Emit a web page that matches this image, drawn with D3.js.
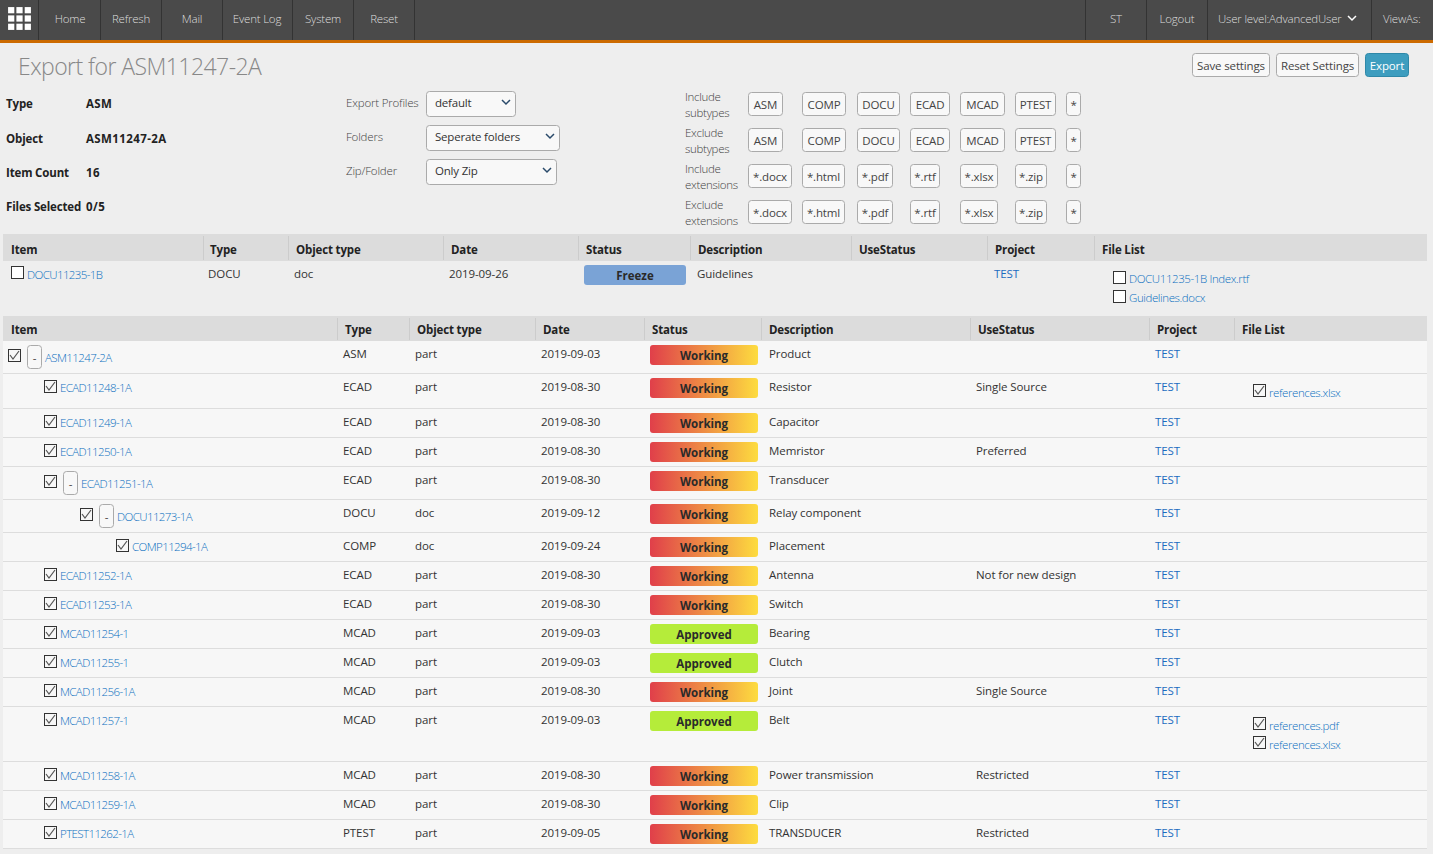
<!DOCTYPE html>
<html>
<head>
<meta charset="utf-8">
<script src="https://cdn.jsdelivr.net/npm/d3@7"></script>
<style>
html, body { margin: 0; padding: 0; background: #eeeeee; overflow: hidden; }
svg { display: block; }
text { font-family: "Open Sans", sans-serif; font-size: 11.5px; letter-spacing: -0.08px; fill: #333; }
</style>
</head>
<body>
<svg id="canvas" width="1433" height="854"></svg>
<script>
// nav
var navLeft = ["Home", "Refresh", "Mail", "Event Log", "System", "Reset"];
var navRight = ["ST", "Logout", "User level:AdvancedUser", "ViewAs:"];

// info block
var infoLabels = ["Type", "Object", "Item Count", "Files Selected"];
var infoValues = ["ASM", "ASM11247-2A", "16", "0/5"];
var selectLabels = ["Export Profiles", "Folders", "Zip/Folder"];
var selectValues = ["default", "Seperate folders", "Only Zip"];

// filters
var filterLabels = [["Include", "subtypes"], ["Exclude", "subtypes"], ["Include", "extensions"], ["Exclude", "extensions"]];
var subtypes = ["ASM", "COMP", "DOCU", "ECAD", "MCAD", "PTEST", "*"];
var extensions = ["*.docx", "*.html", "*.pdf", "*.rtf", "*.xlsx", "*.zip", "*"];

// tables
var columns = ["Item", "Type", "Object type", "Date", "Status", "Description", "UseStatus", "Project", "File List"];

var topItem = ["DOCU11235-1B"];
var topType = ["DOCU"];
var topObject = ["doc"];
var topDate = ["2019-09-26"];
var topStatus = ["Freeze"];
var topDesc = ["Guidelines"];
var topUse = [""];
var topProject = ["TEST"];
var topFiles = [["DOCU11235-1B Index.rtf", "Guidelines.docx"]];

var items = ["ASM11247-2A", "ECAD11248-1A", "ECAD11249-1A", "ECAD11250-1A", "ECAD11251-1A", "DOCU11273-1A", "COMP11294-1A", "ECAD11252-1A", "ECAD11253-1A", "MCAD11254-1", "MCAD11255-1", "MCAD11256-1A", "MCAD11257-1", "MCAD11258-1A", "MCAD11259-1A", "PTEST11262-1A"];
var depths = [0, 1, 1, 1, 1, 2, 3, 1, 1, 1, 1, 1, 1, 1, 1, 1];
var toggles = [1, 0, 0, 0, 1, 1, 0, 0, 0, 0, 0, 0, 0, 0, 0, 0];
var types = ["ASM", "ECAD", "ECAD", "ECAD", "ECAD", "DOCU", "COMP", "ECAD", "ECAD", "MCAD", "MCAD", "MCAD", "MCAD", "MCAD", "MCAD", "PTEST"];
var objectTypes = ["part", "part", "part", "part", "part", "doc", "doc", "part", "part", "part", "part", "part", "part", "part", "part", "part"];
var dates = ["2019-09-03", "2019-08-30", "2019-08-30", "2019-08-30", "2019-08-30", "2019-09-12", "2019-09-24", "2019-08-30", "2019-08-30", "2019-09-03", "2019-09-03", "2019-08-30", "2019-09-03", "2019-08-30", "2019-08-30", "2019-09-05"];
var statuses = ["Working", "Working", "Working", "Working", "Working", "Working", "Working", "Working", "Working", "Approved", "Approved", "Working", "Approved", "Working", "Working", "Working"];
var descriptions = ["Product", "Resistor", "Capacitor", "Memristor", "Transducer", "Relay component", "Placement", "Antenna", "Switch", "Bearing", "Clutch", "Joint", "Belt", "Power transmission", "Clip", "TRANSDUCER"];
var useStatuses = ["", "Single Source", "", "Preferred", "", "", "", "Not for new design", "", "", "", "Single Source", "", "Restricted", "", "Restricted"];
var projects = ["TEST", "TEST", "TEST", "TEST", "TEST", "TEST", "TEST", "TEST", "TEST", "TEST", "TEST", "TEST", "TEST", "TEST", "TEST", "TEST"];
var files = [[], ["references.xlsx"], [], [], [], [], [], [], [], [], [], [], ["references.pdf", "references.xlsx"], [], [], []];

var linkColor = "#0a6fc0", projectColor = "#1c6cc0", lineColor = "#aaa";
var svg = d3.select("#canvas");

var defs = svg.append("defs");
var grad = defs.append("linearGradient").attr("id", "working");
grad.append("stop").attr("offset", "0%").attr("stop-color", "#e03f4a");
grad.append("stop").attr("offset", "100%").attr("stop-color", "#fddc3f");

function label(g, x, y, s, opt) {
  opt = opt || {};
  return g.append("text").attr("x", x).attr("y", y).text(s)
    .style("font-size", opt.size || null)
    .style("font-weight", opt.weight || null)
    .style("letter-spacing", opt.ls || null)
    .style("fill", opt.fill || null)
    .attr("text-anchor", opt.anchor || null);
}

// the thin link text is narrower than the regular text
function link(g, x, y, s, ls) {
  return label(g, x, y, s, { fill: linkColor, weight: 300, ls: ls || "-0.6px" });
}

function checkbox(g, x, y, checked) {
  g.append("rect").attr("x", x + .5).attr("y", y + .5).attr("width", 12).attr("height", 12)
    .attr("fill", checked ? "#f7f7f7" : "#fff").attr("stroke", "#333");
  if (checked) {
    g.append("path").attr("d", "M" + (x + 2) + "," + (y + 6) + "l3,4l6,-8")
      .attr("fill", "none").attr("stroke", "#555").attr("stroke-width", 1.2);
  }
}

function button(g, x, y, w, h, s, opt) {
  opt = opt || {};
  g.append("rect").attr("x", x + .5).attr("y", y + .5).attr("width", w - 1).attr("height", h - 1).attr("rx", 3)
    .attr("fill", opt.bg || "#f8f8f8").attr("stroke", opt.stroke || lineColor);
  label(g, x + w / 2, y + h / 2 + 5, s, { anchor: "middle", fill: opt.fill || "#444", ls: "-0.15px" });
}

function chevron(g, x, y, color) {
  g.append("path").attr("d", "M" + (x - 4) + "," + (y - 2) + "l4,4l4,-4")
    .attr("fill", "none").attr("stroke", color || "#2a4a6a").attr("stroke-width", 1.5);
}

// ---- nav bar
var nav = svg.append("g");
nav.append("rect").attr("width", 1433).attr("height", 40).attr("fill", "#4a4a4a");
nav.append("rect").attr("y", 40).attr("width", 1433).attr("height", 3).attr("fill", "#cc6a00");

// app grid icon
var gridStep = d3.scaleBand().domain([0, 1, 2]).range([6, 33]).padding(0.25);
[0, 1, 2].forEach(function(r) {
  [0, 1, 2].forEach(function(c) {
    nav.append("rect").attr("x", gridStep(c)).attr("y", gridStep(r) - 1)
      .attr("width", gridStep.bandwidth()).attr("height", gridStep.bandwidth()).attr("fill", "#fff");
  });
});

var navSeps = [38, 100, 161, 222, 292, 353, 414, 1085, 1146, 1207, 1371];
nav.selectAll("line").data(navSeps).enter().append("line")
  .attr("x1", function(d) { return d + .5; }).attr("x2", function(d) { return d + .5; })
  .attr("y1", 0).attr("y2", 40).attr("stroke", "#333");

var navLeftX = [70, 131, 192, 257, 323, 384];
navLeft.forEach(function(s, i) {
  label(nav, navLeftX[i], 23, s, { anchor: "middle", fill: "#ddd", weight: 300, ls: "-0.2px" });
});
var navRightX = [1116, 1177, 1218, 1383];
navRight.forEach(function(s, i) {
  label(nav, navRightX[i], 23, s, { anchor: i == 0 || i == 1 ? "middle" : "start", fill: "#ddd", weight: 300, ls: "-0.2px" });
});
chevron(nav, 1352, 18, "#fff");

// ---- title and action buttons
label(svg, 18, 75, "Export for " + infoValues[1], { size: "23px", fill: "#888", weight: 300, ls: "-0.55px" });
button(svg, 1192, 53, 78, 24, "Save settings");
button(svg, 1276, 53, 83, 24, "Reset Settings");
button(svg, 1365, 53, 44, 24, "Export", { bg: "#3d9dbf", stroke: "#2e88a8", fill: "#fff" });

// ---- info block
var infoY = d3.scalePoint().domain(infoLabels).range([108.4, 211.4]);
infoLabels.forEach(function(s, i) {
  label(svg, 6, infoY(s), s, { weight: 700, fill: "#222", ls: "-0.15px" });
  label(svg, 86, infoY(s), infoValues[i], { weight: 700, fill: "#222", ls: "0.4px" });
});

var selectY = d3.scalePoint().domain(selectLabels).range([91, 159]);
var selectW = [90, 134, 131];
selectLabels.forEach(function(s, i) {
  var y = selectY(s);
  label(svg, 346, y + 16, s, { fill: "#444", weight: 300, ls: "-0.18px" });
  svg.append("rect").attr("x", 426.5).attr("y", y + .5).attr("width", selectW[i] - 1).attr("height", 25).attr("rx", 3)
    .attr("fill", "#f8f8f8").attr("stroke", lineColor);
  label(svg, 435, y + 16, selectValues[i], { fill: "#333", ls: "-0.2px" });
  chevron(svg, 426 + selectW[i] - 10, y + 11);
});

// ---- filter buttons
var filterY = d3.scalePoint().domain(d3.range(4)).range([92, 200]);
var filterX = d3.scaleOrdinal().domain(d3.range(7)).range([748, 802, 857, 910, 960, 1015, 1066]);
var subtypeW = [35, 44, 43, 40, 45, 41, 15];
var extensionW = [44, 43, 36, 30, 38, 32, 15];
filterLabels.forEach(function(lines, r) {
  var y = filterY(r);
  label(svg, 685, y + 9, lines[0], { fill: "#444", weight: 300, ls: "-0.3px" });
  label(svg, 685, y + 25, lines[1], { fill: "#444", weight: 300, ls: "-0.3px" });
  var names = r < 2 ? subtypes : extensions;
  var widths = r < 2 ? subtypeW : extensionW;
  names.forEach(function(s, c) {
    button(svg, filterX(c), y, widths[c], 24, s);
  });
});

// ---- tables
function header(y, h, seps, textX) {
  var g = svg.append("g");
  g.append("rect").attr("x", 3).attr("y", y).attr("width", 1424).attr("height", h).attr("fill", "#dcdcdc");
  seps.forEach(function(x) {
    g.append("line").attr("x1", x + .5).attr("x2", x + .5).attr("y1", y + 2).attr("y2", y + h - 1)
      .attr("stroke", "#ccc");
  });
  columns.forEach(function(s) {
    label(g, textX(s), y + h - 7, s, { weight: 700, fill: "#222", ls: "-0.15px" });
  });
}

function pill(g, x, y, w, s) {
  var fill = s == "Working" ? "url(#working)" : s == "Approved" ? "#b5ec3a" : "#7aa3d6";
  g.append("rect").attr("x", x).attr("y", y).attr("width", w).attr("height", 20).attr("rx", 3).attr("fill", fill);
  label(g, x + w / 2, y + 15, s, { anchor: "middle", weight: 700, fill: "#2a2a2a", ls: "0" });
}

// first table
var x1 = d3.scaleOrdinal().domain(columns).range([11, 210, 296, 451, 586, 698, 859, 995, 1102]);
header(234, 27, [203, 288, 443, 578, 690, 851, 987, 1094], x1);

var top1 = svg.append("g");
checkbox(top1, 11, 266, false);
link(top1, 27, 278.5, topItem[0]);
label(top1, 208, 277.5, topType[0]);
label(top1, 294, 277.5, topObject[0]);
label(top1, 449, 277.5, topDate[0]);
pill(top1, 584, 265, 102, topStatus[0]);
label(top1, 697, 277.5, topDesc[0]);
label(top1, 859, 277.5, topUse[0]);
label(top1, 994, 277.5, topProject[0], { fill: projectColor });
topFiles[0].forEach(function(f, i) {
  checkbox(top1, 1113, 271 + i * 19, false);
  link(top1, 1129, 283 + i * 19, f, "-0.4px");
});

// second table
var x2 = d3.scaleOrdinal().domain(columns).range([11, 345, 417, 543, 652, 769, 978, 1157, 1242]);
header(316, 25, [337, 409, 535, 644, 761, 970, 1149, 1234], x2);

function rowHeight(i) {
  if (files[i].length) return 15 + 20 * files[i].length;
  return toggles[i] ? 33 : 29;
}
var rowTops = d3.cumsum([341].concat(items.map(function(d, i) { return rowHeight(i); })));
var depthX = d3.scaleLinear().domain([0, 1]).range([8, 44]);

var rows = svg.selectAll("g.row").data(items).enter().append("g").attr("class", "row")
  .attr("transform", function(d, i) { return "translate(0," + rowTops[i] + ")"; });

rows.each(function(d, i) {
  var g = d3.select(this), h = rowHeight(i), cx = depthX(depths[i]);
  g.append("rect").attr("x", 3).attr("width", 1424).attr("height", h).attr("fill", "#f7f7f7");
  g.append("line").attr("x1", 3).attr("x2", 1427).attr("y1", h - .5).attr("y2", h - .5).attr("stroke", "#ddd");

  checkbox(g, cx, toggles[i] ? 8 : 6, true);
  if (toggles[i]) {
    g.append("rect").attr("x", cx + 19.5).attr("y", 4.5).attr("width", 14).attr("height", 23).attr("rx", 3)
      .attr("fill", "#f8f8f8").attr("stroke", lineColor);
    label(g, cx + 26.5, 21, "-", { anchor: "middle", fill: "#444" });
  }
  link(g, cx + (toggles[i] ? 37 : 16), toggles[i] ? 20.5 : 17.5, d);

  label(g, 343, 16.5, types[i]);
  label(g, 415, 16.5, objectTypes[i]);
  label(g, 541, 16.5, dates[i]);
  pill(g, 650, 4, 108, statuses[i]);
  label(g, 769, 16.5, descriptions[i]);
  label(g, 976, 16.5, useStatuses[i]);
  label(g, 1155, 16.5, projects[i], { fill: projectColor });
  files[i].forEach(function(f, k) {
    checkbox(g, 1253, 10 + k * 19, true);
    link(g, 1269, 22.5 + k * 19, f, "-0.4px");
  });
});
</script>
</body>
</html>
